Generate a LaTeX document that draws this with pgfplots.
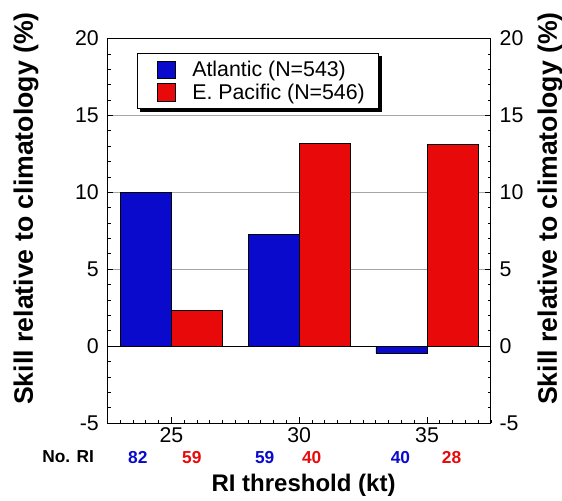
\documentclass[border=0pt]{standalone}
\usepackage{fontspec}
\setmainfont{Liberation Sans}
\usepackage{pgfplots}
\pgfplotsset{compat=1.18}
\usetikzlibrary{backgrounds}
\definecolor{atl}{RGB}{10,10,205}
\definecolor{epac}{RGB}{232,10,10}
\begin{document}
\begin{tikzpicture}
\path[use as bounding box] (-80.6pt,-57.75pt) rectangle (340.9pt,317.3pt);
\begin{axis}[
  at={(0,0)}, anchor=south west,
  scale only axis, width=287.6pt, height=288.4pt,
  xmin=22.5, xmax=37.5, ymin=-5, ymax=20,
  ybar=0pt, bar width=2,
  area legend,
  legend image code/.code={\draw[#1,line width=0.4pt] (6.5pt,-6.5pt) rectangle (20pt,6.5pt); \path[draw=none,fill=none] (0pt,0pt) -- (31pt,0pt);},
  xtick={25,30,35}, minor xtick={22.5,23,...,37.5},
  ytick={-5,0,5,10,15,20}, minor ytick={-4,-3,...,19},
  xtick pos=bottom, ytick pos=left,
  tick align=inside,
  major tick length=4.5pt, minor tick length=2.5pt,
  tick style={black, line width=0.6pt},
  ymajorgrids, grid style={gray!70, line width=0.6pt},
  axis line style={line width=0.8pt},
  ticklabel style={font=\fontsize{16}{18}\selectfont},
  yticklabel style={xshift=-3pt},
  /pgf/number format/assume math mode=true,
  clip=false,
  legend style={at={(rel axis cs:0.077,0.963)}, anchor=north west, name=leg,
    draw=black, line width=1pt, fill=white,
    font=\fontsize{16}{19}\selectfont, inner xsep=8pt, inner ysep=3.5pt,
    row sep=0pt, cells={anchor=west}},
]
\addplot[fill=atl, draw=black, line width=0.5pt] coordinates {(25,10.0) (30,7.25) (35,-0.45)};
\addplot[fill=epac, draw=black, line width=0.5pt] coordinates {(25,2.3) (30,13.2) (35,13.1)};
\legend{Atlantic (N=543), E. Pacific (N=546)}
\draw[black, line width=0.8pt] (axis cs:22.5,0) -- (axis cs:37.5,0);
\node[rotate=90, font=\bfseries\fontsize{20}{22}\selectfont] at (rel axis cs:-0.2125,0.558) {Skill relative to climatology (\%)};
\node[rotate=90, font=\bfseries\fontsize{20}{22}\selectfont] at (rel axis cs:1.154,0.558) {Skill relative to climatology (\%)};
\node[font=\bfseries\fontsize{13}{15}\selectfont] at (axis cs:20.96,-7.21) {No. RI};
\node[font=\bfseries\fontsize{13}{15}\selectfont, text=atl] at (axis cs:23.69,-7.21) {82};
\node[font=\bfseries\fontsize{13}{15}\selectfont, text=epac] at (axis cs:25.80,-7.21) {59};
\node[font=\bfseries\fontsize{13}{15}\selectfont, text=atl] at (axis cs:28.65,-7.21) {59};
\node[font=\bfseries\fontsize{13}{15}\selectfont, text=epac] at (axis cs:30.49,-7.21) {40};
\node[font=\bfseries\fontsize{13}{15}\selectfont, text=atl] at (axis cs:33.96,-7.21) {40};
\node[font=\bfseries\fontsize{13}{15}\selectfont, text=epac] at (axis cs:35.96,-7.21) {28};
\node[font=\bfseries\fontsize{18}{20}\selectfont] at (axis cs:30.17,-9.03) {RI threshold (kt)};
\end{axis}
\begin{scope}[on background layer]
\fill[black] ([shift={(2.5pt,-2.5pt)}]leg.south west) rectangle ([shift={(2.5pt,-2.5pt)}]leg.north east);
\end{scope}
\begin{axis}[
  at={(0,0)}, anchor=south west,
  scale only axis, width=287.6pt, height=288.4pt,
  xmin=22.5, xmax=37.5, ymin=-5, ymax=20,
  hide x axis, axis y line*=right,
  ytick={-5,0,5,10,15,20}, minor ytick={-4,-3,...,19},
  tick align=inside,
  major tick length=4.5pt, minor tick length=2.5pt,
  tick style={black, line width=0.6pt},
  axis line style={line width=0.8pt},
  ticklabel style={font=\fontsize{16}{18}\selectfont},
  yticklabel style={xshift=3pt},
  /pgf/number format/assume math mode=true,
]
\addplot[draw=none] coordinates {(25,0)};
\end{axis}
\end{tikzpicture}
\end{document}
